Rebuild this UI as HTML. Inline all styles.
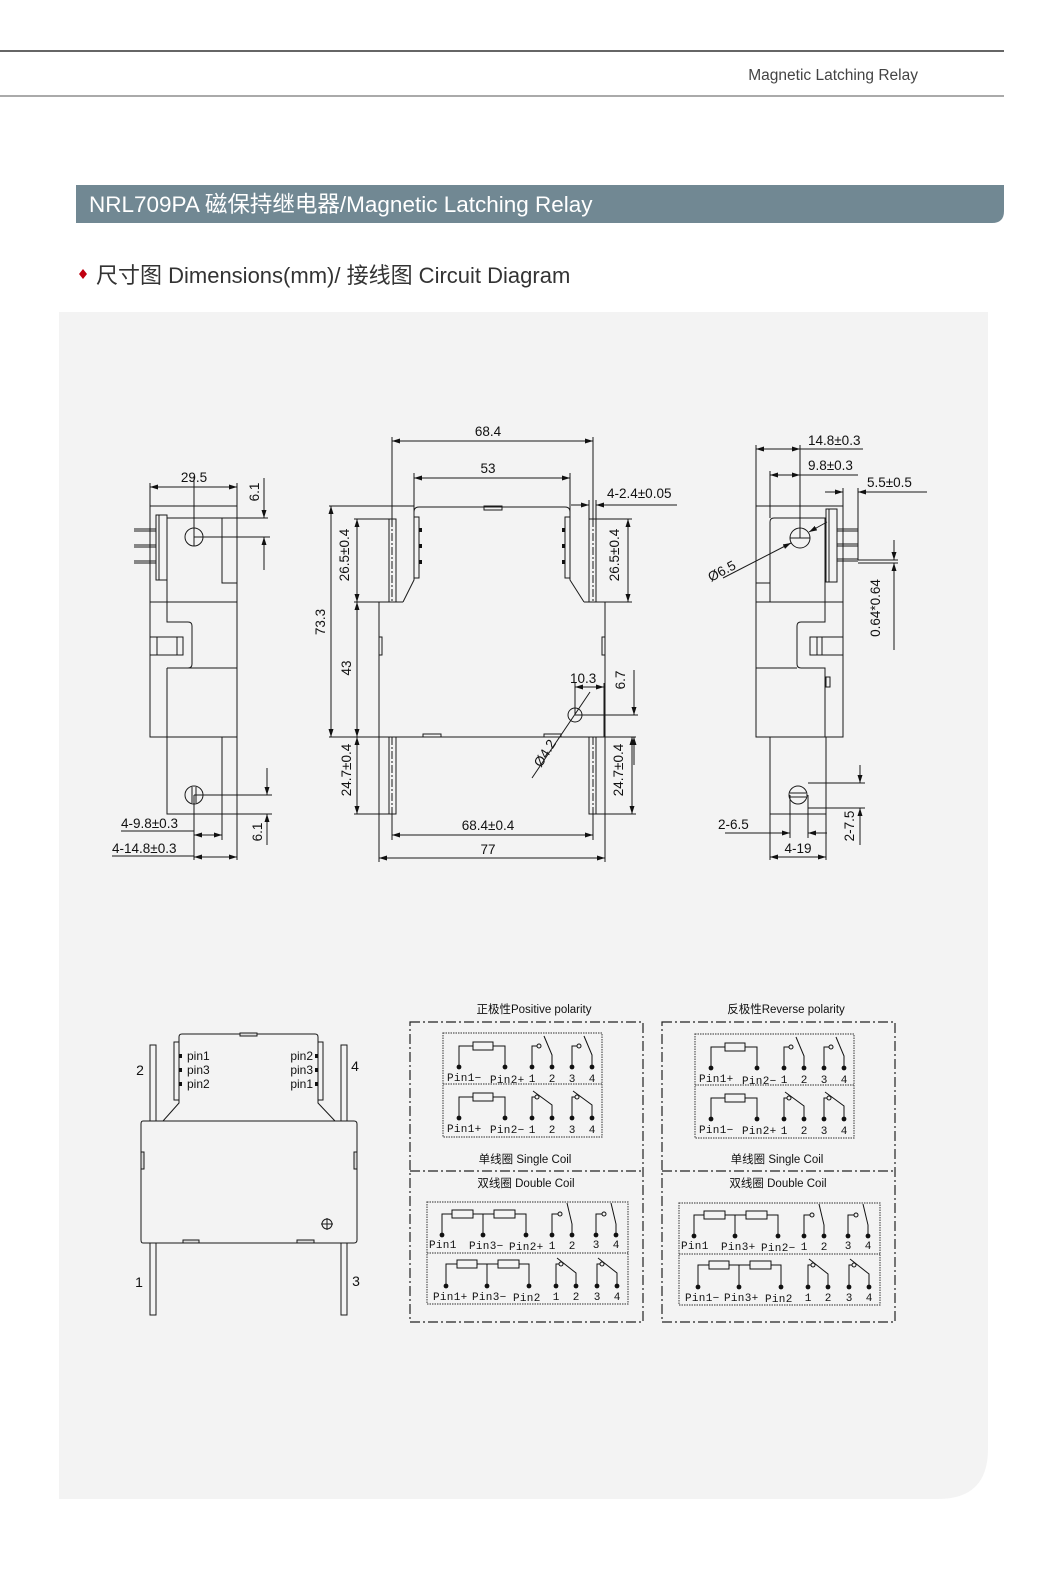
<!DOCTYPE html>
<html><head><meta charset="utf-8"><style>
html,body{margin:0;padding:0;background:#fff;}
svg{display:block;}
</style></head><body>
<svg xmlns="http://www.w3.org/2000/svg" width="1058" height="1587" viewBox="0 0 1058 1587" font-family="'Liberation Sans', 'Noto Sans CJK SC', sans-serif">
<defs>
<marker id="a" markerWidth="9" markerHeight="6" refX="8" refY="2.5" orient="auto-start-reverse" markerUnits="userSpaceOnUse"><path d="M0,0 L8,2.5 L0,5 z" fill="#111"/></marker>
</defs>
<rect width="1058" height="1587" fill="#fff"/>
<!-- header -->
<line x1="0" y1="51" x2="1004" y2="51" stroke="#333" stroke-width="1.5"/>
<line x1="0" y1="96" x2="1004" y2="96" stroke="#555" stroke-width="1"/>
<text x="918" y="80" font-size="15.5" fill="#444" text-anchor="end">Magnetic Latching Relay</text>
<!-- title bar -->
<path d="M76,185 H1004 V211 Q1004,223 992,223 H76 Z" fill="#718893"/>
<text x="89" y="212" font-size="22.5" fill="#fff" font-family="'Liberation Sans','Noto Sans CJK SC',sans-serif">NRL709PA 磁保持继电器/Magnetic Latching Relay</text>
<!-- subheading -->
<path d="M83,269 L87,274 L83,279 L79,274 Z" fill="#c00010"/>
<text x="96" y="283" font-size="22" fill="#333">尺寸图 Dimensions(mm)/ 接线图 Circuit Diagram</text>
<!-- panel -->
<path d="M59,312 H988 V1449 Q988,1499 938,1499 H59 Z" fill="#f3f3f3"/>

<g stroke="#1a1a1a" stroke-width="1" fill="none">
<!-- ============ LEFT SIDE VIEW ============ -->
<rect x="150" y="506" width="87" height="231"/>
<line x1="150" y1="602" x2="237" y2="602"/>
<path d="M167,602 V518 H222 V583 H237"/>
<rect x="156" y="515" width="11" height="65"/>
<line x1="159" y1="515" x2="159" y2="580"/>
<path d="M134,529 H156 M134,531 H156 M134,545 H156 M134,547 H156 M134,561 H156 M134,563 H156"/>
<circle cx="194" cy="537" r="9"/>
<line x1="194" y1="476" x2="194" y2="546"/>
<line x1="194" y1="537" x2="270" y2="537"/>
<path d="M167,602 V622 H188 Q192,622 192,626 V664 Q192,668 188,668 H167"/>
<line x1="167" y1="668" x2="237" y2="668"/>
<line x1="167" y1="668" x2="167" y2="737"/>
<rect x="150" y="637" width="33" height="18"/>
<line x1="157" y1="637" x2="157" y2="655"/><line x1="177" y1="637" x2="177" y2="655"/>
<path d="M167,737 V814 H222 V737"/>
<circle cx="194" cy="795" r="9"/>
<line x1="192" y1="787" x2="192" y2="803"/><line x1="196" y1="787" x2="196" y2="803"/>
<line x1="194" y1="795" x2="194" y2="860"/>
<line x1="194" y1="795" x2="272" y2="795"/>
<line x1="222" y1="814" x2="272" y2="814"/>
<line x1="222" y1="814" x2="222" y2="840"/>
<line x1="237" y1="737" x2="237" y2="860"/>
<line x1="150" y1="483" x2="150" y2="506"/><line x1="237" y1="483" x2="237" y2="506"/>
<line x1="150" y1="487" x2="237" y2="487" marker-start="url(#a)" marker-end="url(#a)"/>
<line x1="222" y1="518" x2="268" y2="518"/>
<line x1="264" y1="478" x2="264" y2="518" marker-end="url(#a)"/>
<line x1="264" y1="570" x2="264" y2="537" marker-end="url(#a)"/>
<line x1="267" y1="768" x2="267" y2="795" marker-end="url(#a)"/>
<line x1="267" y1="845" x2="267" y2="814" marker-end="url(#a)"/>
<line x1="194" y1="835" x2="222" y2="835" marker-start="url(#a)" marker-end="url(#a)"/>
<line x1="121" y1="831" x2="194" y2="831"/>
<line x1="194" y1="857" x2="237" y2="857" marker-start="url(#a)" marker-end="url(#a)"/>
<line x1="112" y1="856" x2="194" y2="856"/>

<!-- ============ FRONT VIEW ============ -->
<path d="M403,602 L414,580 V512 Q414,507 419,507 H565 Q570,507 570,512 V580 L584,602"/>
<rect x="414" y="517" width="5" height="61"/>
<rect x="565" y="517" width="5" height="61"/>
<rect x="484" y="506" width="18" height="4"/>
<line x1="329" y1="506" x2="414" y2="506"/>
<rect x="389" y="519" width="7" height="83"/>
<rect x="589" y="519" width="7" height="83"/>
<line x1="392" y1="519" x2="392" y2="602" stroke-dasharray="8 2 2 2"/>
<line x1="593" y1="519" x2="593" y2="602" stroke-dasharray="8 2 2 2"/>
<path d="M403,602 H379 V737 H605 V602 H584"/>
<line x1="329" y1="737" x2="636" y2="737"/>
<rect x="379" y="637" width="3" height="18"/>
<rect x="602" y="637" width="3" height="18"/>
<rect x="423" y="734" width="18" height="3"/>
<rect x="544" y="734" width="17" height="3"/>
<rect x="389" y="737" width="7" height="77"/>
<rect x="589" y="737" width="7" height="77"/>
<line x1="392" y1="737" x2="392" y2="814" stroke-dasharray="8 2 2 2"/>
<line x1="593" y1="737" x2="593" y2="814" stroke-dasharray="8 2 2 2"/>
<!-- dims front -->
<line x1="392" y1="437" x2="392" y2="519"/><line x1="593" y1="437" x2="593" y2="519"/>
<line x1="392" y1="441" x2="593" y2="441" marker-start="url(#a)" marker-end="url(#a)"/>
<line x1="414" y1="473" x2="414" y2="517"/><line x1="570" y1="473" x2="570" y2="517"/>
<line x1="414" y1="478" x2="570" y2="478" marker-start="url(#a)" marker-end="url(#a)"/>
<line x1="331" y1="506" x2="331" y2="737" marker-start="url(#a)" marker-end="url(#a)"/>
<line x1="354" y1="519" x2="389" y2="519"/><line x1="354" y1="602" x2="379" y2="602"/>
<line x1="357" y1="519" x2="357" y2="602" marker-start="url(#a)" marker-end="url(#a)"/>
<line x1="357" y1="602" x2="357" y2="737" marker-start="url(#a)" marker-end="url(#a)"/>
<line x1="357" y1="737" x2="357" y2="814" marker-start="url(#a)" marker-end="url(#a)"/>
<line x1="354" y1="814" x2="389" y2="814"/>
<line x1="596" y1="519" x2="632" y2="519"/><line x1="605" y1="602" x2="632" y2="602"/>
<line x1="628" y1="519" x2="628" y2="602" marker-start="url(#a)" marker-end="url(#a)"/>
<line x1="632" y1="737" x2="632" y2="814" marker-start="url(#a)" marker-end="url(#a)"/>
<line x1="596" y1="814" x2="636" y2="814"/>
<line x1="571" y1="505" x2="589" y2="505" marker-end="url(#a)"/>
<line x1="677" y1="505" x2="596" y2="505" marker-end="url(#a)"/>
<line x1="589" y1="500" x2="589" y2="519"/><line x1="596" y1="500" x2="596" y2="519"/>
<line x1="392" y1="814" x2="392" y2="840"/><line x1="593" y1="814" x2="593" y2="840"/>
<line x1="392" y1="835" x2="593" y2="835" marker-start="url(#a)" marker-end="url(#a)"/>
<line x1="379" y1="737" x2="379" y2="862"/><line x1="605" y1="737" x2="605" y2="862"/>
<line x1="379" y1="858" x2="605" y2="858" marker-start="url(#a)" marker-end="url(#a)"/>
<circle cx="575" cy="715" r="7"/>
<line x1="532" y1="778" x2="590" y2="692"/>
<line x1="575" y1="683" x2="575" y2="715"/>
<line x1="575" y1="715" x2="638" y2="715"/>
<line x1="575" y1="687" x2="604" y2="687" marker-start="url(#a)" marker-end="url(#a)"/>
<line x1="604" y1="683" x2="604" y2="737"/>
<line x1="634" y1="670" x2="634" y2="715" marker-end="url(#a)"/>
<line x1="634" y1="765" x2="634" y2="737" marker-end="url(#a)"/>

<!-- ============ RIGHT VIEW ============ -->
<rect x="756" y="506" width="87" height="231"/>
<line x1="756" y1="602" x2="843" y2="602"/>
<line x1="756" y1="583" x2="770" y2="583"/>
<path d="M770,602 V522 Q770,518 774,518 H825 V602"/>
<rect x="826" y="509" width="11" height="73"/>
<line x1="829" y1="509" x2="829" y2="582"/>
<path d="M837,529 H858 M837,531 H858 M837,544 H858 M837,546 H858 M837,559 H858 M837,561 H858"/>
<circle cx="800" cy="538" r="10"/>
<line x1="790" y1="538" x2="810" y2="538"/>
<line x1="800" y1="445" x2="800" y2="538"/>
<line x1="756" y1="445" x2="756" y2="506"/>
<line x1="770" y1="471" x2="770" y2="518"/>
<path d="M825,602 V622 H801 Q797,622 797,626 V664 Q797,668 801,668 H825 V737"/>
<line x1="756" y1="668" x2="797" y2="668"/>
<rect x="810" y="637" width="33" height="18"/>
<line x1="817" y1="637" x2="817" y2="655"/><line x1="822" y1="637" x2="822" y2="655"/>
<rect x="826" y="677" width="4" height="10"/>
<path d="M770,737 V860 M826,737 V860"/>
<line x1="770" y1="814" x2="826" y2="814"/>
<circle cx="798" cy="795" r="9"/>
<line x1="790" y1="793" x2="806" y2="793"/><line x1="790" y1="797" x2="806" y2="797"/>
<line x1="790" y1="795" x2="790" y2="838"/><line x1="808" y1="795" x2="808" y2="838"/>
<line x1="808" y1="783" x2="865" y2="783"/><line x1="808" y1="808" x2="865" y2="808"/>
<line x1="725" y1="833" x2="790" y2="833" marker-end="url(#a)"/>
<line x1="827" y1="833" x2="808" y2="833" marker-end="url(#a)"/>
<line x1="860" y1="765" x2="860" y2="783" marker-end="url(#a)"/>
<line x1="860" y1="845" x2="860" y2="808" marker-end="url(#a)"/>
<line x1="770" y1="857" x2="826" y2="857" marker-start="url(#a)" marker-end="url(#a)"/>
<line x1="756" y1="449" x2="800" y2="449" marker-start="url(#a)" marker-end="url(#a)"/>
<line x1="800" y1="449" x2="863" y2="449"/>
<line x1="770" y1="475" x2="800" y2="475" marker-start="url(#a)" marker-end="url(#a)"/>
<line x1="800" y1="475" x2="858" y2="475"/>
<line x1="825" y1="492" x2="843" y2="492" marker-end="url(#a)"/>
<line x1="927" y1="492" x2="858" y2="492" marker-end="url(#a)"/>
<line x1="843" y1="488" x2="843" y2="506"/><line x1="858" y1="488" x2="858" y2="560"/>
<line x1="723" y1="578" x2="791" y2="543" marker-end="url(#a)"/>
<line x1="827" y1="522" x2="809" y2="532" marker-end="url(#a)"/>
<line x1="858" y1="560" x2="898" y2="560"/><line x1="858" y1="563" x2="898" y2="563"/>
<line x1="894" y1="540" x2="894" y2="560" marker-end="url(#a)"/>
<line x1="894" y1="650" x2="894" y2="563" marker-end="url(#a)"/>

<!-- ============ BOTTOM LEFT RELAY ============ -->
<path d="M163,1121 L179,1103 V1037 Q179,1034 182,1034 H315 Q318,1034 318,1037 V1103 L335,1121"/>
<rect x="240" y="1033" width="17" height="3" fill="#ddd"/>
<rect x="174" y="1042" width="5" height="58"/>
<rect x="318" y="1042" width="5" height="58"/>
<path d="M150,1121 V1045 H156 V1121 M341,1121 V1045 H347 V1121"/>
<path d="M143,1121 H354 Q357,1121 357,1124 V1240 Q357,1243 354,1243 H143 Q141,1243 141,1240 V1124 Q141,1121 143,1121 Z"/>
<rect x="141" y="1152" width="3" height="17" fill="#ddd"/>
<rect x="354" y="1152" width="3" height="17" fill="#ddd"/>
<rect x="183" y="1240" width="16" height="3" fill="#ddd"/>
<rect x="297" y="1240" width="17" height="3" fill="#ddd"/>
<path d="M150,1243 V1315 H156 V1243 M341,1243 V1315 H347 V1243"/>
<circle cx="327" cy="1224" r="5"/>
<path d="M321,1224 H333 M327,1218 V1230"/>
</g>
<g fill="#111">
<rect x="179" y="1054" width="3" height="4"/><rect x="179" y="1068" width="3" height="4"/><rect x="179" y="1082" width="3" height="4"/>
<rect x="315" y="1054" width="3" height="4"/><rect x="315" y="1068" width="3" height="4"/><rect x="315" y="1082" width="3" height="4"/>
<rect x="419" y="528" width="3" height="4"/><rect x="419" y="544" width="3" height="4"/><rect x="419" y="560" width="3" height="4"/>
<rect x="562" y="528" width="3" height="4"/><rect x="562" y="544" width="3" height="4"/><rect x="562" y="560" width="3" height="4"/>
</g>

<!-- dimension texts -->
<g font-size="13.5" fill="#111">
<text x="194" y="482" text-anchor="middle">29.5</text>
<text transform="translate(259,492) rotate(-90)" text-anchor="middle">6.1</text>
<text transform="translate(262,832) rotate(-90)" text-anchor="middle">6.1</text>
<text x="121" y="828">4-9.8±0.3</text>
<text x="112" y="853">4-14.8±0.3</text>
<text x="488" y="436" text-anchor="middle">68.4</text>
<text x="488" y="473" text-anchor="middle">53</text>
<text x="607" y="498">4-2.4±0.05</text>
<text transform="translate(325,622) rotate(-90)" text-anchor="middle">73.3</text>
<text transform="translate(351,668) rotate(-90)" text-anchor="middle">43</text>
<text transform="translate(349,555) rotate(-90)" text-anchor="middle">26.5±0.4</text>
<text transform="translate(619,555) rotate(-90)" text-anchor="middle">26.5±0.4</text>
<text transform="translate(351,770) rotate(-90)" text-anchor="middle">24.7±0.4</text>
<text transform="translate(623,770) rotate(-90)" text-anchor="middle">24.7±0.4</text>
<text x="570" y="683">10.3</text>
<text transform="translate(625,680) rotate(-90)" text-anchor="middle">6.7</text>
<text transform="translate(541,768) rotate(-58)">Ø4.2</text>
<text x="488" y="830" text-anchor="middle">68.4±0.4</text>
<text x="488" y="854" text-anchor="middle">77</text>
<text x="808" y="445">14.8±0.3</text>
<text x="808" y="470">9.8±0.3</text>
<text x="867" y="487">5.5±0.5</text>
<text transform="translate(711,582) rotate(-28)">Ø6.5</text>
<text transform="translate(880,608) rotate(-90)" text-anchor="middle">0.64*0.64</text>
<text x="718" y="829">2-6.5</text>
<text transform="translate(854,826) rotate(-90)" text-anchor="middle">2-7.5</text>
<text x="798" y="853" text-anchor="middle">4-19</text>
</g>
<g font-size="12" fill="#111">
<text x="187" y="1060">pin1</text><text x="187" y="1074">pin3</text><text x="187" y="1088">pin2</text>
<text x="313" y="1060" text-anchor="end">pin2</text><text x="313" y="1074" text-anchor="end">pin3</text><text x="313" y="1088" text-anchor="end">pin1</text>
</g>
<g font-size="14" fill="#111" text-anchor="middle">
<text x="140" y="1075">2</text><text x="355" y="1071">4</text><text x="139" y="1287">1</text><text x="356" y="1286">3</text>
</g>

<!-- ============ CIRCUIT BOXES ============ -->
<defs>
<g id="sOpen" stroke="#111" fill="none" stroke-width="1">
<path d="M16,34 V13 H30 M50,13 H62 V34"/><rect x="30" y="9" width="20" height="8"/>
<path d="M89,34 V13 H94 M109,34 V22 L101,3"/><circle cx="96" cy="13" r="2"/>
<path d="M129,34 V13 H134 M149,34 V22 L141,3"/><circle cx="136" cy="13" r="2"/>
<g fill="#111" stroke="none"><circle cx="16" cy="34" r="2.4"/><circle cx="62" cy="34" r="2.4"/><circle cx="89" cy="34" r="2.4"/><circle cx="109" cy="34" r="2.4"/><circle cx="129" cy="34" r="2.4"/><circle cx="149" cy="34" r="2.4"/></g>
</g>
<g id="sClosed" stroke="#111" fill="none" stroke-width="1">
<path d="M16,34 V13 H30 M50,13 H62 V34"/><rect x="30" y="9" width="20" height="8"/>
<path d="M89,34 V13 H92 M109,34 V21 L90,7"/><circle cx="94" cy="13" r="2"/>
<path d="M129,34 V13 H132 M149,34 V21 L130,7"/><circle cx="134" cy="13" r="2"/>
<g fill="#111" stroke="none"><circle cx="16" cy="34" r="2.4"/><circle cx="62" cy="34" r="2.4"/><circle cx="89" cy="34" r="2.4"/><circle cx="109" cy="34" r="2.4"/><circle cx="129" cy="34" r="2.4"/><circle cx="149" cy="34" r="2.4"/></g>
</g>
<g id="dOpen" stroke="#111" fill="none" stroke-width="1">
<path d="M15,33 V12 H25 M46,12 H67 M88,12 H99 V33 M56,12 V33"/><rect x="25" y="8" width="21" height="8"/><rect x="67" y="8" width="21" height="8"/>
<path d="M125,33 V12 H131 M145,33 V22 L140,1"/><circle cx="133" cy="12" r="2"/>
<path d="M169,33 V12 H175 M189,33 V22 L184,1"/><circle cx="177" cy="12" r="2"/>
<g fill="#111" stroke="none"><circle cx="15" cy="33" r="2.4"/><circle cx="56" cy="33" r="2.4"/><circle cx="99" cy="33" r="2.4"/><circle cx="125" cy="33" r="2.4"/><circle cx="145" cy="33" r="2.4"/><circle cx="169" cy="33" r="2.4"/><circle cx="189" cy="33" r="2.4"/></g>
</g>
<g id="dClosed" stroke="#111" fill="none" stroke-width="1">
<path d="M19,33 V11 H30 M50,11 H71 M92,11 H102 V33 M60,11 V33"/><rect x="30" y="7" width="20" height="8"/><rect x="71" y="7" width="21" height="8"/>
<path d="M129,33 V11 H132 M149,33 V20 L130,5"/><circle cx="134" cy="11" r="2"/>
<path d="M170,33 V11 H173 M190,33 V20 L171,5"/><circle cx="175" cy="11" r="2"/>
<g fill="#111" stroke="none"><circle cx="19" cy="33" r="2.4"/><circle cx="60" cy="33" r="2.4"/><circle cx="102" cy="33" r="2.4"/><circle cx="129" cy="33" r="2.4"/><circle cx="149" cy="33" r="2.4"/><circle cx="170" cy="33" r="2.4"/><circle cx="190" cy="33" r="2.4"/></g>
</g>
</defs>

<g id="boxes" fill="none" stroke="#222" stroke-width="1.2">
<rect x="410" y="1022" width="233" height="300" stroke-dasharray="10 3 2 3"/>
<line x1="410" y1="1171" x2="643" y2="1171" stroke-dasharray="10 3 2 3"/>
<rect x="662" y="1022" width="233" height="300" stroke-dasharray="10 3 2 3"/>
<line x1="662" y1="1171" x2="895" y2="1171" stroke-dasharray="10 3 2 3"/>
<g stroke="#555" stroke-dasharray="1.5 1">
<rect x="443" y="1033" width="159" height="104"/><line x1="443" y1="1084" x2="602" y2="1084"/>
<rect x="695" y="1034" width="159" height="104"/><line x1="695" y1="1085" x2="854" y2="1085"/>
<rect x="427" y="1202" width="201" height="102"/><line x1="427" y1="1253" x2="628" y2="1253"/>
<rect x="679" y="1203" width="201" height="102"/><line x1="679" y1="1254" x2="880" y2="1254"/>
</g>
</g>
<use href="#sOpen" x="443" y="1033"/>
<use href="#sClosed" x="443" y="1084"/>
<use href="#sOpen" x="695" y="1034"/>
<use href="#sClosed" x="695" y="1085"/>
<use href="#dOpen" x="427" y="1202"/>
<use href="#dClosed" x="427" y="1253"/>
<use href="#dOpen" x="679" y="1203"/>
<use href="#dClosed" x="679" y="1254"/>

<g font-size="11.5" fill="#111" font-family="'Liberation Sans','Noto Sans CJK SC',sans-serif">
<text x="534" y="1013" text-anchor="middle">正极性Positive polarity</text>
<text x="786" y="1013" text-anchor="middle">反极性Reverse polarity</text>
<text x="525" y="1163" text-anchor="middle">单线圈  Single Coil</text>
<text x="777" y="1163" text-anchor="middle">单线圈  Single Coil</text>
<text x="526" y="1187" text-anchor="middle">双线圈 Double Coil</text>
<text x="778" y="1187" text-anchor="middle">双线圈 Double Coil</text>
</g>
<g font-size="11" fill="#111" font-family="'Liberation Mono','DejaVu Sans Mono',monospace" letter-spacing="0.3">
<text x="447" y="1081">Pin1−</text><text x="490" y="1083">Pin2+</text>
<text x="447" y="1132">Pin1+</text><text x="490" y="1133">Pin2−</text>
<text x="699" y="1082">Pin1+</text><text x="742" y="1084">Pin2−</text>
<text x="699" y="1133">Pin1−</text><text x="742" y="1134">Pin2+</text>
<text x="429" y="1248">Pin1</text><text x="469" y="1249">Pin3−</text><text x="509" y="1250">Pin2+</text>
<text x="433" y="1300">Pin1+</text><text x="472" y="1300">Pin3−</text><text x="513" y="1301">Pin2</text>
<text x="681" y="1249">Pin1</text><text x="721" y="1250">Pin3+</text><text x="761" y="1251">Pin2−</text>
<text x="685" y="1301">Pin1−</text><text x="724" y="1301">Pin3+</text><text x="765" y="1302">Pin2</text>
</g>
<g font-size="11" fill="#111" text-anchor="middle" font-family="'Liberation Mono',monospace">
<text x="532" y="1082">1</text><text x="552" y="1082">2</text><text x="572" y="1082">3</text><text x="592" y="1082">4</text>
<text x="532" y="1133">1</text><text x="552" y="1133">2</text><text x="572" y="1133">3</text><text x="592" y="1133">4</text>
<text x="784" y="1083">1</text><text x="804" y="1083">2</text><text x="824" y="1083">3</text><text x="844" y="1083">4</text>
<text x="784" y="1134">1</text><text x="804" y="1134">2</text><text x="824" y="1134">3</text><text x="844" y="1134">4</text>
<text x="552" y="1249">1</text><text x="572" y="1249">2</text><text x="596" y="1248">3</text><text x="616" y="1248">4</text>
<text x="556" y="1300">1</text><text x="576" y="1300">2</text><text x="597" y="1300">3</text><text x="617" y="1300">4</text>
<text x="804" y="1250">1</text><text x="824" y="1250">2</text><text x="848" y="1249">3</text><text x="868" y="1249">4</text>
<text x="808" y="1301">1</text><text x="828" y="1301">2</text><text x="849" y="1301">3</text><text x="869" y="1301">4</text>
</g>
</svg>
</body></html>
